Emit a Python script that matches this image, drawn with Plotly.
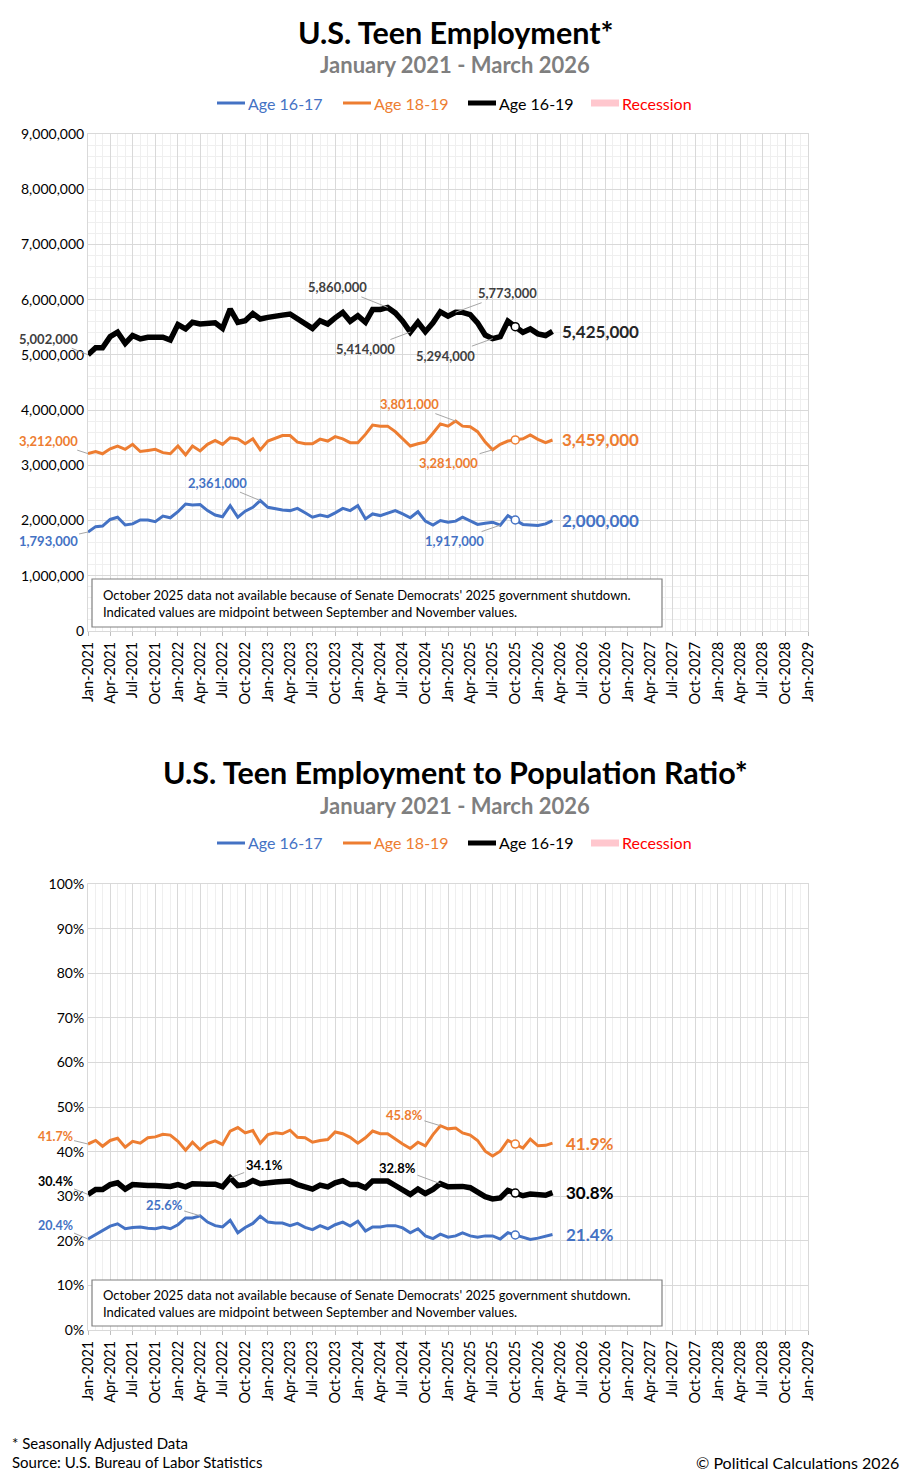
import plotly.graph_objects as go
import pandas as pd

W, H = 911, 1477
FONT = "Lato, 'Open Sans', sans-serif"

BLUE = "#4472C4"
ORANGE = "#ED7D31"
BLACK = "#000000"
PINK = "#FFC7CE"
RED = "#FF0000"
GREY = "#7F7F7F"

# ---- data (Jan 2021 .. Mar 2026, monthly) ----
months = pd.date_range("2021-01-01", "2026-03-01", freq="MS")

emp_16_19 = [5002000, 5130000, 5130000, 5330000, 5410000, 5210000, 5350000, 5290000, 5320000, 5320000,
             5320000, 5270000, 5550000, 5470000, 5590000, 5560000, 5580000, 5580000, 5480000, 5830000,
             5590000, 5620000, 5750000, 5650000, 5680000, 5690000, 5720000, 5740000, 5650000, 5550000,
             5480000, 5620000, 5560000, 5670000, 5770000, 5610000, 5710000, 5590000, 5820000, 5820000,
             5860000, 5760000, 5610000, 5414000, 5590000, 5420000, 5580000, 5780000, 5700000, 5773000,
             5770000, 5730000, 5580000, 5360000, 5294000, 5330000, 5610000, 5510000, 5410000, 5470000,
             5380000, 5350000, 5425000]
emp_18_19 = [3212000, 3250000, 3210000, 3300000, 3350000, 3290000, 3380000, 3250000, 3270000, 3290000,
             3230000, 3210000, 3350000, 3190000, 3350000, 3260000, 3380000, 3450000, 3380000, 3500000,
             3480000, 3390000, 3480000, 3280000, 3440000, 3500000, 3540000, 3540000, 3420000, 3390000,
             3390000, 3475000, 3440000, 3520000, 3480000, 3410000, 3410000, 3560000, 3730000, 3710000,
             3710000, 3610000, 3480000, 3350000, 3390000, 3420000, 3580000, 3750000, 3710000, 3801000,
             3710000, 3700000, 3610000, 3420000, 3281000, 3380000, 3440000, 3460000, 3480000, 3550000,
             3470000, 3410000, 3459000]
emp_16_17 = [1793000, 1890000, 1900000, 2020000, 2060000, 1920000, 1940000, 2010000, 2010000, 1980000,
             2080000, 2050000, 2160000, 2300000, 2280000, 2290000, 2180000, 2100000, 2070000, 2270000,
             2060000, 2170000, 2240000, 2361000, 2240000, 2210000, 2190000, 2180000, 2220000, 2140000,
             2060000, 2100000, 2070000, 2140000, 2220000, 2180000, 2270000, 2030000, 2120000, 2090000,
             2140000, 2180000, 2120000, 2050000, 2160000, 1990000, 1920000, 2000000, 1970000, 1990000,
             2060000, 1990000, 1930000, 1950000, 1970000, 1917000, 2090000, 2010000, 1930000, 1920000,
             1910000, 1940000, 2000000]

epr_16_19 = [30.4, 31.5, 31.5, 32.6, 33.0, 31.6, 32.6, 32.4, 32.4, 32.4,
             32.4, 32.2, 32.6, 32.1, 32.8, 32.6, 32.7, 32.7, 32.1, 34.1,
             32.4, 32.6, 33.5, 32.8, 33.1, 33.2, 33.3, 33.4, 32.6, 32.0,
             31.6, 32.5, 32.1, 33.0, 33.5, 32.6, 32.6, 31.9, 33.4, 33.4,
             33.4, 32.4, 31.5, 30.4, 31.6, 30.6, 31.5, 32.8, 32.1, 32.2,
             32.2, 31.9, 30.9, 29.9, 29.4, 29.6, 31.3, 30.7, 30.1, 30.5,
             30.4, 30.2, 30.8]
epr_18_19 = [41.7, 42.5, 41.2, 42.5, 43.0, 41.0, 42.3, 41.9, 43.1, 43.3,
             43.9, 43.7, 42.3, 40.3, 42.1, 40.4, 41.8, 42.4, 41.6, 44.6,
             45.4, 44.2, 44.7, 41.9, 43.8, 44.2, 44.0, 44.8, 43.2, 43.1,
             42.1, 42.5, 42.7, 44.4, 44.0, 43.2, 41.9, 43.1, 44.6, 44.0,
             44.0, 42.8, 41.7, 40.7, 42.1, 41.3, 43.8, 45.8, 45.1, 45.3,
             44.2, 43.7, 42.5, 40.1, 39.0, 40.1, 42.5, 41.7, 40.8, 42.8,
             41.3, 41.4, 41.9]
epr_16_17 = [20.4, 21.4, 22.2, 23.3, 23.8, 22.7, 23.0, 23.1, 22.8, 22.7,
             23.1, 22.7, 23.6, 25.1, 25.1, 25.6, 24.2, 23.4, 23.1, 24.6,
             21.8, 23.0, 23.9, 25.5, 24.2, 24.0, 24.0, 23.4, 23.9, 23.0,
             22.5, 23.4, 22.7, 23.6, 24.2, 23.3, 24.4, 22.2, 23.1, 23.1,
             23.4, 23.4, 22.9, 21.8, 22.7, 21.1, 20.5, 21.5, 20.8, 21.1,
             21.8, 21.1, 20.8, 21.1, 21.1, 20.4, 21.8, 21.3, 20.8, 20.3,
             20.6, 21.0, 21.4]

OCT25 = 57  # index of the interpolated October 2025 value

series_names = ["Age 16-17", "Age 18-19", "Age 16-19"]
series_colors = [BLUE, ORANGE, BLACK]
series_widths = [3, 3, 5.5]

note_text = ("October 2025 data not available because of Senate Democrats' 2025 government shutdown.<br>"
             "Indicated values are midpoint between September and November values.")


def px(x):
    return x / W


def py(y):
    return 1 - y / H


fig = go.Figure()

top_sets = [emp_16_17, emp_18_19, emp_16_19]
bot_sets = [epr_16_17, epr_18_19, epr_16_19]

for vals, col, wid, nm in zip(top_sets, series_colors, series_widths, series_names):
    fig.add_trace(go.Scatter(x=months, y=vals, mode="lines", name=nm, showlegend=False,
                             line=dict(color=col, width=wid), xaxis="x", yaxis="y"))
for vals, col, wid, nm in zip(bot_sets, series_colors, series_widths, series_names):
    fig.add_trace(go.Scatter(x=months, y=vals, mode="lines", name=nm, showlegend=False,
                             line=dict(color=col, width=wid), xaxis="x2", yaxis="y2"))
# hollow markers at the interpolated month
for vals, col in zip(top_sets, series_colors):
    fig.add_trace(go.Scatter(x=[months[OCT25]], y=[vals[OCT25]], mode="markers", showlegend=False,
                             marker=dict(color="white", size=8, line=dict(color=col, width=1.5)),
                             xaxis="x", yaxis="y"))
for vals, col in zip(bot_sets, series_colors):
    fig.add_trace(go.Scatter(x=[months[OCT25]], y=[vals[OCT25]], mode="markers", showlegend=False,
                             marker=dict(color="white", size=8, line=dict(color=col, width=1.5)),
                             xaxis="x2", yaxis="y2"))

xcommon = dict(type="date", range=["2021-01-01", "2029-01-01"], tick0="2021-01-01", dtick="M3",
               tickformat="%b-%Y", tickangle=-90, showgrid=True, gridcolor="#D9D9D9", gridwidth=1,
               minor=dict(dtick="M1", showgrid=True, gridcolor="#EFEFEF"),
               showline=True, linecolor="#D9D9D9", mirror=True, ticks="outside", ticklen=4,
               tickcolor="#BFBFBF", tickfont=dict(family=FONT, size=14.5, color="#000"), zeroline=False,
               automargin=False, domain=[px(88), px(808)])

fig.update_layout(
    width=W, height=H, margin=dict(l=0, r=0, t=0, b=0, autoexpand=False),
    paper_bgcolor="white", plot_bgcolor="white", font=dict(family=FONT),
    xaxis=dict(**xcommon, anchor="y"),
    xaxis2=dict(**xcommon, anchor="y2"),
    yaxis=dict(range=[0, 9000000], dtick=1000000, tickformat=",", showgrid=True, gridcolor="#D9D9D9",
               minor=dict(dtick=200000, showgrid=True, gridcolor="#EFEFEF"),
               showline=True, linecolor="#D9D9D9", mirror=True, zeroline=False, ticks="", automargin=False,
               tickfont=dict(family=FONT, size=14, color="#000"), domain=[py(631), py(134)], anchor="x"),
    yaxis2=dict(range=[0, 100], dtick=10, ticksuffix="%", showgrid=True, gridcolor="#D9D9D9",
                showline=True, linecolor="#D9D9D9", mirror=True, zeroline=False, ticks="", automargin=False,
                tickfont=dict(family=FONT, size=14, color="#000"), domain=[py(1330), py(884)], anchor="x2"),
)

ann = []
shapes = []

# titles
for title, ty, sy in [("U.S. Teen Employment*", 32, 64), ("U.S. Teen Employment to Population Ratio*", 772, 805)]:
    ann.append(dict(text=f"<b>{title}</b>", x=px(455), y=py(ty), xref="paper", yref="paper", showarrow=False,
                    xanchor="center", yanchor="middle", font=dict(family=FONT, size=30.5, color="#000")))
    ann.append(dict(text="<b>January 2021 - March 2026</b>", x=px(455), y=py(sy), xref="paper", yref="paper",
                    showarrow=False, xanchor="center", yanchor="middle", font=dict(family=FONT, size=22, color=GREY)))

# legends
legend_items = [("Age 16-17", BLUE, BLUE, 3, 217), ("Age 18-19", ORANGE, ORANGE, 3, 343),
                ("Age 16-19", BLACK, BLACK, 5, 468), ("Recession", PINK, RED, 7, 591)]
for ly in (103, 843):
    for name, lcol, tcol, lw, lx in legend_items:
        shapes.append(dict(type="line", xref="paper", yref="paper", x0=px(lx), x1=px(lx + 28),
                           y0=py(ly), y1=py(ly), line=dict(color=lcol, width=lw)))
        ann.append(dict(text=name, x=px(lx + 29), y=py(ly), xref="paper", yref="paper", showarrow=False,
                        xanchor="left", yanchor="middle", font=dict(family=FONT, size=16, color=tcol)))

# note boxes
for (bx0, by0, bx1, by1) in [(92, 579, 662, 627), (92, 1280, 662, 1326)]:
    shapes.append(dict(type="rect", xref="paper", yref="paper", x0=px(bx0), x1=px(bx1), y0=py(by1), y1=py(by0),
                       fillcolor="white", line=dict(color="#808080", width=1.2), layer="above"))
    ann.append(dict(text=note_text, x=px(bx0 + 9), y=py((by0 + by1) / 2), xref="paper", yref="paper",
                    showarrow=False, xanchor="left", yanchor="middle", align="left",
                    font=dict(family=FONT, size=13, color="#000")))


def callout(idx, vals, text, col, dx, dy, xa, ya, size=13):
    ann.append(dict(text=f"<b>{text}</b>", x=months[idx], y=vals[idx], xref=xa, yref=ya, ax=dx, ay=dy,
                    showarrow=True, arrowhead=0, arrowwidth=1, arrowcolor="#A6A6A6",
                    font=dict(family=FONT, size=size, color=col)))


def fmt(v):
    return f"{v:,.0f}"


DARK = "#404040"
# top chart callouts
callout(0, emp_16_19, fmt(emp_16_19[0]), DARK, -40, -16, "x", "y")
callout(0, emp_18_19, fmt(emp_18_19[0]), ORANGE, -40, -13, "x", "y")
callout(0, emp_16_17, fmt(emp_16_17[0]), BLUE, -40, 9, "x", "y")
callout(40, emp_16_19, fmt(emp_16_19[40]), DARK, -50, -20, "x", "y")
callout(43, emp_16_19, fmt(emp_16_19[43]), DARK, -45, 17, "x", "y")
callout(49, emp_16_19, fmt(emp_16_19[49]), DARK, 52, -19, "x", "y")
callout(54, emp_16_19, fmt(emp_16_19[54]), DARK, -47, 17, "x", "y")
callout(49, emp_18_19, fmt(emp_18_19[49]), ORANGE, -46, -17, "x", "y")
callout(54, emp_18_19, fmt(emp_18_19[54]), ORANGE, -44, 13, "x", "y")
callout(23, emp_16_17, fmt(emp_16_17[23]), BLUE, -43, -18, "x", "y")
callout(55, emp_16_17, fmt(emp_16_17[55]), BLUE, -46, 16, "x", "y")

# bottom chart callouts
callout(0, epr_18_19, f"{epr_18_19[0]:.1f}%", ORANGE, -33, -8, "x2", "y2", size=12.5)
callout(0, epr_16_19, f"{epr_16_19[0]:.1f}%", BLACK, -33, -13, "x2", "y2", size=12.5)
callout(0, epr_16_17, f"{epr_16_17[0]:.1f}%", BLUE, -33, -14, "x2", "y2", size=12.5)
callout(19, epr_16_19, f"{epr_16_19[19]:.1f}%", BLACK, 34, -13, "x2", "y2")
callout(15, epr_16_17, f"{epr_16_17[15]:.1f}%", BLUE, -36, -11, "x2", "y2")
callout(47, epr_18_19, f"{epr_18_19[47]:.1f}%", ORANGE, -36, -11, "x2", "y2")
callout(47, epr_16_19, f"{epr_16_19[47]:.1f}%", BLACK, -43, -16, "x2", "y2")

# end labels
for vals, col in zip(top_sets, [BLUE, ORANGE, "#262626"]):
    ann.append(dict(text=f"<b>{fmt(vals[-1])}</b>", x=months[-1], y=vals[-1], xref="x", yref="y",
                    showarrow=False, xanchor="left", yanchor="middle", xshift=8,
                    font=dict(family=FONT, size=17, color=col)))
for vals, col in zip(bot_sets, [BLUE, ORANGE, BLACK]):
    ann.append(dict(text=f"<b>{vals[-1]:.1f}%</b>", x=months[-1], y=vals[-1], xref="x2", yref="y2",
                    showarrow=False, xanchor="left", yanchor="middle", xshift=12,
                    font=dict(family=FONT, size=17, color=col)))

# footer
ann.append(dict(text="* Seasonally Adjusted Data", x=px(10), y=py(1443), xref="paper", yref="paper",
                showarrow=False, xanchor="left", yanchor="middle", font=dict(family=FONT, size=15, color="#000")))
ann.append(dict(text="Source: U.S. Bureau of Labor Statistics", x=px(10), y=py(1462), xref="paper", yref="paper",
                showarrow=False, xanchor="left", yanchor="middle", font=dict(family=FONT, size=15, color="#000")))
ann.append(dict(text="© Political Calculations 2026", x=px(901), y=py(1462), xref="paper", yref="paper",
                showarrow=False, xanchor="right", yanchor="middle", font=dict(family=FONT, size=16, color="#000")))

fig.update_layout(annotations=ann, shapes=shapes)
fig.write_html("out.html", config={"displayModeBar": False},
               post_script="document.body.style.margin='0px';")
